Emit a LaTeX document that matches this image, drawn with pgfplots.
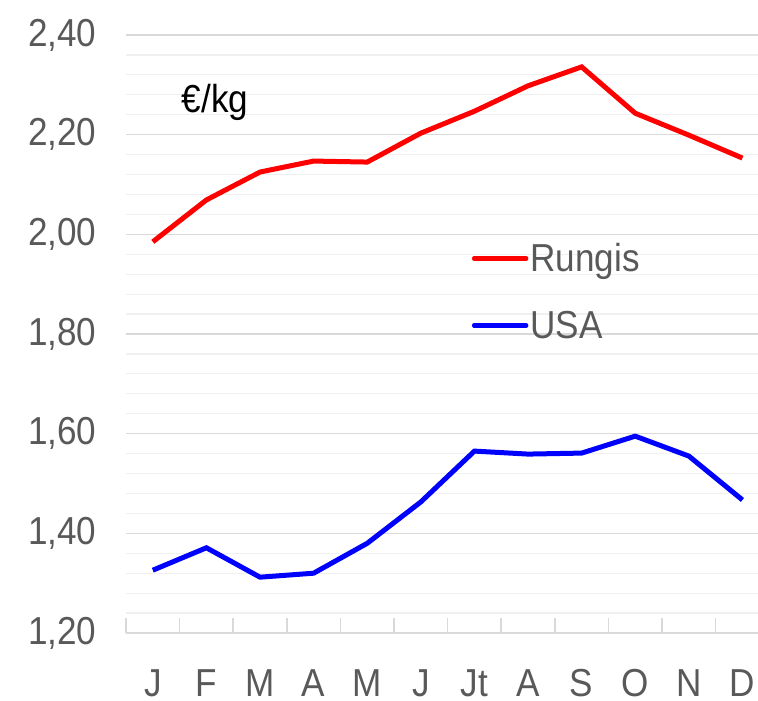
\documentclass[border=0pt]{standalone}
\usepackage{fontspec}
\setmainfont[FakeStretch=0.9]{Liberation Sans}
\usepackage{pgfplots}
\pgfplotsset{compat=1.18}
\definecolor{txt}{HTML}{595959}
\definecolor{gmaj}{HTML}{D9D9D9}
\definecolor{gmin}{HTML}{F0F0F0}
\definecolor{rred}{HTML}{FF0000}
\definecolor{bblue}{HTML}{0000FF}
\begin{document}
\begin{tikzpicture}
\begin{axis}[
  width=632pt, height=598pt, scale only axis,
  xmin=-0.5, xmax=11.29, ymin=1.2, ymax=2.4,
  xtick={0,...,11},
  xticklabels={J,F,M,A,M,J,Jt,A,S,O,N,D},
  minor xtick={-0.5,0.5,1.5,2.5,3.5,4.5,5.5,6.5,7.5,8.5,9.5,10.5,11.5},
  major tick length=0pt, minor tick length=15pt, tick align=inside,
  ytick={1.2,1.4,1.6,1.8,2.0,2.2,2.4},
  /pgf/number format/fixed, /pgf/number format/fixed zerofill,
  /pgf/number format/precision=2, /pgf/number format/use comma,
  /pgf/number format/assume math mode=true,
  axis x line*=bottom, axis y line*=left,
  y axis line style={draw=none},
  x axis line style={draw=gmaj, line width=1.5pt, -},
  tick style={draw=gmaj, line width=1.5pt},
  ymajorgrids, major grid style={draw=gmaj, line width=1.2pt},
  extra y ticks={1.24,1.28,1.32,1.36,1.44,1.48,1.52,1.56,1.64,1.68,1.72,1.76,1.84,1.88,1.92,1.96,2.04,2.08,2.12,2.16,2.24,2.28,2.32,2.36},
  extra y tick labels={},
  extra y tick style={grid=major, major grid style={draw=gmin, line width=1.2pt}, tick style={draw=none}},
  ticklabel style={font=\fontsize{39}{44}\selectfont, text=txt},
  xticklabel style={inner sep=0pt, text depth=0pt, yshift=-36pt},
  yticklabel style={xshift=-26pt},
  legend style={at={(rel axis cs:0.547,0.655)}, anchor=north west, draw=none, fill=none,
    font=\fontsize{39}{44}\selectfont, text=txt, inner sep=0pt, row sep=34pt,
    /tikz/every even column/.append style={column sep=4pt}},
  legend cell align=left,
  legend image code/.code={\draw[#1, line width=4.5pt, line cap=round] (0pt,0pt) -- (52pt,0pt);},
]
\addplot[rred, line width=5pt] coordinates {
 (0,1.985) (1,2.069) (2,2.125) (3,2.147) (4,2.145) (5,2.203)
 (6,2.247) (7,2.298) (8,2.336) (9,2.243) (10,2.199) (11,2.153)};
\addlegendentry{Rungis}
\addplot[bblue, line width=5pt] coordinates {
 (0,1.326) (1,1.371) (2,1.312) (3,1.320) (4,1.380) (5,1.463)
 (6,1.565) (7,1.559) (8,1.561) (9,1.595) (10,1.555) (11,1.467)};
\addlegendentry{USA}
\node[font=\fontsize{39}{44}\selectfont, text=black] at (axis cs:1.16,2.265) {€/kg};
\end{axis}
\pgfresetboundingbox
\path ([xshift=-126pt,yshift=-68pt]current axis.south west) rectangle ([yshift=35pt]current axis.north east);
\end{tikzpicture}
\end{document}
